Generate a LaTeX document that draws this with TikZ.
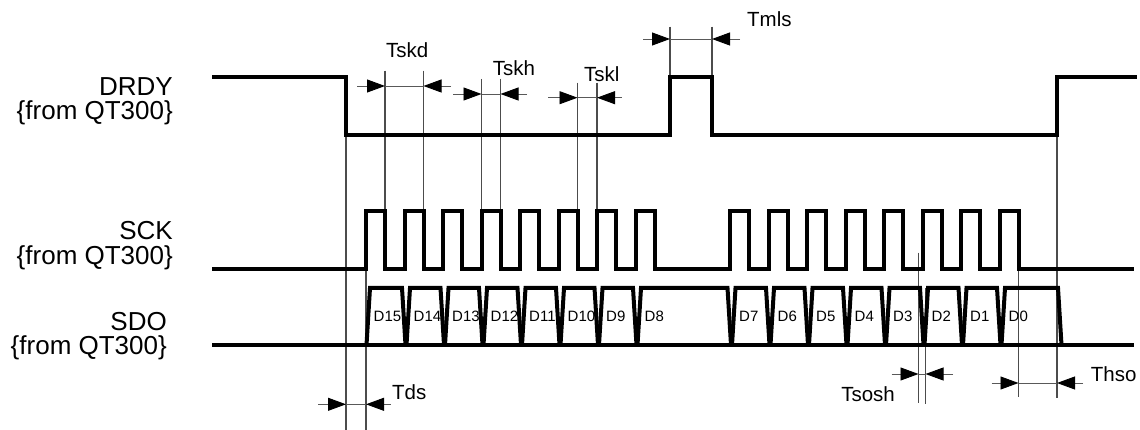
\documentclass[tikz,border=0pt]{standalone}
\usepackage{fontspec}
\setmainfont{Liberation Sans}
\usetikzlibrary{arrows.meta}
\newcommand\dimline[5]{% x1, x2, y, left start, right end
  \draw[tipline] (#4,#3) -- (#1,#3);
  \draw[dimthin] (#1,#3) -- (#2,#3);
  \draw[tipline] (#5,#3) -- (#2,#3);}
\begin{document}
\begin{tikzpicture}[x=1pt,y=-1pt,
  sig/.style={line width=4pt, line join=miter, line cap=butt},
  guide/.style={line width=1.1pt, draw=black!70},
  dimthin/.style={line width=0.9pt, draw=black!65},
  tipline/.style={dimthin, -{Triangle[length=18pt,width=13pt,color=black]}},
  siglabel/.style={font=\fontsize{26}{24.5}\selectfont, inner sep=0pt, anchor=base east, align=right},
  tlabel/.style={font=\fontsize{20.5}{20.5}\selectfont, inner sep=0pt, anchor=base west},
  celllabel/.style={font=\fontsize{15}{15}\selectfont, inner sep=0pt, anchor=base west}]
\useasboundingbox (0,0) rectangle (1140,430);

% signal labels (anchor on the baseline of the last line)
\node[siglabel] (drdy) at (173,120) {DRDY\\\{from QT300\}};
\node[siglabel] (sck) at (173,264.5) {SCK\\\{from QT300\}};
\node[siglabel] (sdo) at (167,354.5) {SDO\\\{from QT300\}};

% guide lines
\draw[guide] (346,135) -- (346,430);
\draw[guide] (366,269) -- (366,430);
\draw[guide] (385,70.7) -- (385,211);
\draw[guide] (423.5,70.7) -- (423.5,211);
\draw[guide] (481.5,79) -- (481.5,211);
\draw[guide] (500.5,79) -- (500.5,211);
\draw[guide] (577.5,82.7) -- (577.5,211);
\draw[guide] (597,82.7) -- (597,211);
\draw[guide] (670,26.7) -- (670,77);
\draw[guide] (712,26.7) -- (712,77);
\draw[guide] (918.5,252.7) -- (918.5,403);
\draw[guide] (925.5,288) -- (925.5,404);
\draw[guide] (1018.5,269) -- (1018.5,397);
\draw[guide] (1057,135) -- (1057,398);

% DRDY
\draw[sig] (212,77) -- (346,77) -- (346,135) -- (670,135) -- (670,77) -- (712,77)
  -- (712,135) -- (1057,135) -- (1057,77) -- (1137,77);

% SCK
\draw[sig] (212,269)
  \foreach \r in {366,404.5,443,481.5,520,558.5,597,635.5,730,768.5,807,845.5,884,922.5,961,999.5}
  { -- (\r,269) -- (\r,211) -- ({\r+19},211) -- ({\r+19},269) }
  -- (1134,269);

% SDO
\draw[sig] (212,345) -- (1134,345);
\foreach \a/\b/\t in {366/406/D15,406/444.5/D14,444.5/483/D13,483/521.5/D12,521.5/560/D11,
  560/598.5/D10,598.5/637/D9,637/731.5/D8,731.5/770/D7,770/808.5/D6,808.5/847/D5,
  847/885.5/D4,885.5/924/D3,924/962.5/D2,962.5/1001/D1,1001/1062/D0}
{
  \draw[sig] ({\a+0.5},345) -- ({\a+4},288) -- ({\b-4},288) -- ({\b-0.5},345);
  \node[celllabel] (\t) at ({\a+7.5},321.7) {\t};
}

% dimensions
\dimline{385}{423.5}{86}{357}{451}
\dimline{481.5}{500.5}{94}{453}{527}
\dimline{577.5}{597}{97.7}{548}{621.7}
\dimline{670}{712}{39}{643}{740}
\dimline{346}{366}{404.3}{318}{390.7}
\dimline{918.5}{925.5}{374}{891.7}{953}
\dimline{1018.5}{1057}{383}{991.7}{1083}

% timing labels
\node[tlabel] (tskd) at (386,57.3) {Tskd};
\node[tlabel] (tskh) at (492.7,76) {Tskh};
\node[tlabel] (tskl) at (584,81.7) {Tskl};
\node[tlabel] (tmls) at (747,26.7) {Tmls};
\node[tlabel] (tds) at (392,399) {Tds};
\node[tlabel, anchor=base east] (tsosh) at (895,401.7) {Tsosh};
\node[tlabel] (thso) at (1090.7,381.7) {Thso};
\end{tikzpicture}
\end{document}
